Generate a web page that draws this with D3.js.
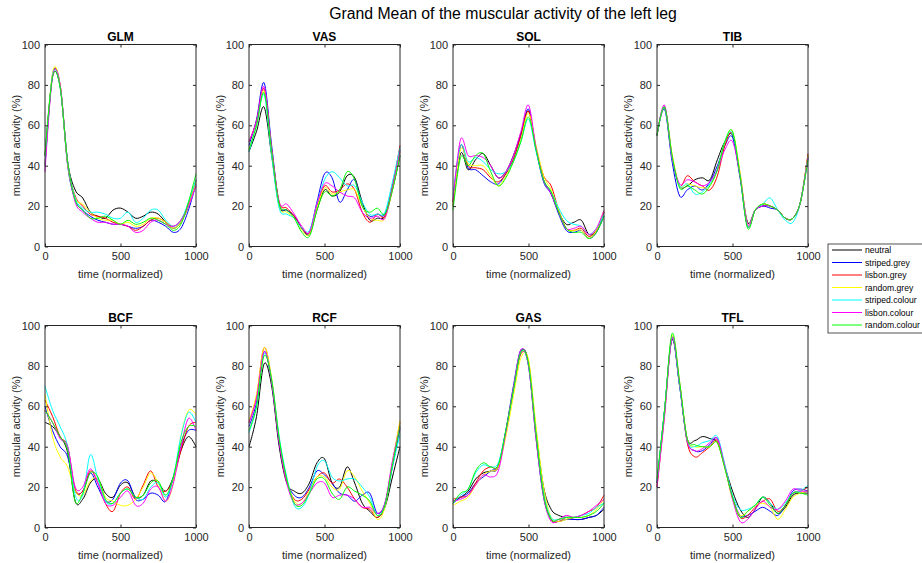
<!DOCTYPE html>
<html>
<head>
<meta charset="utf-8">
<script src="https://cdn.jsdelivr.net/npm/d3@7"></script>
<style>
  body { margin: 0; background: #fff; }
  text { font-family: "Liberation Sans", Arial, sans-serif; }
</style>
</head>
<body>
<div id="chart"></div>
<script>
// time grid shared by all muscles (normalized gait cycle)
var timePoints = [0, 50, 100, 150, 200, 250, 300, 350, 400, 450, 500, 550, 600, 650, 700, 750, 800, 850, 900, 950, 1000];

var seriesNames = ["neutral", "striped.grey", "lisbon.grey", "random.grey", "striped.colour", "lisbon.colour", "random.colour"];
var seriesColors = ["#000000", "#0000ff", "#ff0000", "#ffff00", "#00ffff", "#ff00ff", "#00ff00"];

var muscleNames = ["GLM", "VAS", "SOL", "TIB", "BCF", "RCF", "GAS", "TFL"];

var xTicks = [0, 500, 1000];
var yTicks = [0, 20, 40, 60, 80, 100];

// one row per series, same order as seriesNames
var glmValues = [
  [45, 84, 79, 42, 28, 24, 17, 15, 14, 18, 19, 17, 14, 15, 17, 16, 12, 9, 12, 20, 33],
  [40, 85, 80, 40, 23, 18, 15, 13, 12, 11, 11, 10, 9, 10, 13, 12, 10, 7, 9, 18, 31],
  [40, 85, 80, 41, 25, 20, 16, 15, 14, 12, 11, 10, 8, 10, 13, 14, 12, 10, 13, 21, 32],
  [40, 86, 80, 41, 24, 21, 17, 14, 13, 13, 11, 12, 10, 11, 14, 14, 12, 9, 12, 20, 32],
  [40, 85, 79, 42, 24, 19, 17, 17, 16, 14, 14, 17, 12, 14, 18, 18, 13, 10, 13, 22, 33],
  [37, 84, 80, 42, 22, 17, 14, 12, 12, 11, 11, 10, 7, 8, 12, 13, 11, 10, 13, 20, 30],
  [45, 84, 79, 42, 23, 18, 14, 14, 15, 13, 11, 13, 11, 12, 14, 13, 11, 8, 11, 22, 36]
];
var vasValues = [
  [47, 57, 69, 45, 20, 18, 15, 9, 6, 18, 28, 25, 27, 35, 34, 22, 13, 14, 15, 28, 45],
  [50, 63, 81, 50, 21, 18, 15, 9, 7, 22, 36, 34, 22, 28, 33, 20, 15, 16, 16, 30, 48],
  [52, 62, 78, 48, 22, 19, 15, 9, 7, 20, 30, 27, 28, 31, 28, 17, 12, 16, 15, 30, 50],
  [48, 60, 77, 47, 20, 17, 14, 8, 6, 19, 29, 26, 27, 28, 28, 20, 14, 13, 14, 28, 47],
  [47, 60, 75, 45, 19, 16, 14, 9, 8, 21, 33, 37, 34, 30, 30, 22, 16, 16, 17, 32, 49],
  [52, 62, 79, 48, 22, 21, 16, 10, 7, 21, 31, 30, 27, 25, 24, 17, 14, 15, 14, 29, 47],
  [48, 60, 76, 47, 21, 18, 14, 7, 5, 18, 27, 25, 28, 37, 33, 20, 17, 19, 16, 28, 45]
];
var solValues = [
  [20, 46, 38, 43, 46, 40, 34, 37, 45, 56, 67, 48, 33, 26, 17, 11, 12, 13, 6, 8, 17],
  [22, 50, 39, 38, 35, 32, 31, 36, 43, 55, 68, 48, 32, 26, 16, 8, 7, 8, 4, 7, 15],
  [22, 50, 40, 39, 38, 34, 32, 36, 43, 55, 67, 49, 35, 30, 18, 9, 8, 9, 5, 8, 17],
  [20, 48, 41, 40, 40, 35, 30, 35, 42, 53, 66, 50, 35, 28, 18, 9, 8, 8, 4, 8, 18],
  [25, 50, 42, 44, 42, 38, 36, 37, 42, 52, 63, 47, 33, 27, 19, 13, 11, 10, 6, 9, 16],
  [23, 53, 45, 45, 44, 40, 34, 37, 45, 57, 70, 49, 33, 26, 17, 9, 9, 10, 6, 9, 18],
  [18, 44, 40, 45, 46, 37, 30, 34, 42, 52, 64, 48, 33, 27, 17, 9, 7, 7, 4, 7, 15]
];
var tibValues = [
  [55, 69, 44, 30, 30, 33, 34, 33, 43, 52, 55, 35, 12, 18, 20, 20, 18, 14, 14, 22, 45],
  [55, 68, 42, 25, 28, 30, 28, 32, 40, 50, 54, 34, 10, 18, 20, 19, 18, 14, 14, 22, 44],
  [55, 69, 45, 30, 35, 32, 30, 28, 35, 50, 56, 36, 10, 18, 21, 20, 18, 14, 14, 22, 46],
  [55, 69, 46, 30, 31, 30, 29, 30, 38, 52, 57, 37, 11, 18, 21, 20, 18, 14, 14, 22, 45],
  [55, 69, 44, 30, 31, 26, 27, 31, 38, 52, 56, 35, 10, 18, 21, 24, 18, 13, 12, 22, 44],
  [55, 70, 44, 31, 33, 32, 30, 32, 38, 48, 52, 35, 11, 18, 20, 20, 18, 14, 14, 22, 44],
  [55, 69, 45, 29, 30, 28, 26, 30, 38, 52, 57, 35, 9, 18, 21, 20, 18, 14, 14, 22, 43]
];
var bcfValues = [
  [52, 50, 45, 37, 13, 14, 22, 24, 17, 15, 21, 22, 15, 16, 23, 22, 18, 25, 38, 45, 40],
  [60, 48, 40, 35, 18, 18, 27, 20, 13, 14, 22, 23, 14, 14, 17, 16, 13, 25, 40, 48, 48],
  [63, 55, 45, 40, 19, 18, 28, 22, 12, 8, 17, 20, 14, 21, 28, 20, 18, 24, 38, 50, 52],
  [66, 45, 35, 30, 18, 16, 23, 24, 15, 13, 11, 11, 14, 20, 27, 22, 13, 22, 45, 58, 56],
  [70, 58, 50, 40, 16, 16, 36, 24, 13, 12, 17, 19, 15, 14, 20, 22, 15, 25, 45, 57, 52],
  [58, 52, 44, 40, 20, 20, 29, 22, 12, 11, 15, 18, 11, 12, 19, 20, 13, 22, 40, 54, 48],
  [58, 52, 45, 38, 13, 17, 27, 25, 14, 12, 17, 19, 15, 16, 22, 23, 16, 25, 42, 50, 50]
];
var rcfValues = [
  [40, 55, 81, 70, 40, 22, 18, 17, 22, 32, 34, 22, 20, 30, 22, 12, 8, 5, 10, 25, 40],
  [50, 62, 87, 72, 42, 23, 16, 15, 20, 28, 26, 22, 17, 16, 13, 16, 17, 7, 12, 30, 49],
  [52, 65, 89, 73, 43, 23, 14, 14, 19, 25, 27, 22, 24, 20, 14, 10, 9, 5, 11, 32, 52],
  [53, 66, 89, 74, 44, 24, 13, 12, 18, 25, 25, 20, 19, 28, 25, 18, 12, 4, 10, 32, 53],
  [47, 60, 86, 73, 45, 25, 11, 10, 17, 30, 33, 25, 23, 24, 24, 20, 15, 6, 11, 30, 46],
  [52, 64, 87, 72, 42, 22, 12, 12, 17, 22, 22, 15, 16, 16, 14, 10, 10, 7, 12, 33, 50],
  [48, 60, 85, 73, 44, 24, 12, 11, 17, 24, 24, 17, 14, 20, 18, 16, 13, 6, 11, 31, 50]
];
var gasValues = [
  [13, 15, 18, 24, 27, 28, 30, 48, 68, 87, 82, 48, 20, 9, 6, 5, 4, 4, 5, 6, 9],
  [12, 15, 17, 22, 25, 28, 31, 48, 70, 88, 80, 44, 15, 4, 3, 4, 4, 4, 5, 6, 10],
  [14, 15, 16, 22, 28, 30, 30, 47, 68, 86, 81, 46, 17, 4, 3, 5, 5, 6, 8, 10, 16],
  [11, 13, 15, 21, 26, 28, 30, 45, 65, 84, 83, 50, 20, 5, 3, 4, 5, 5, 6, 9, 14],
  [12, 16, 19, 27, 31, 30, 32, 48, 68, 87, 80, 46, 17, 5, 4, 5, 5, 6, 7, 10, 12],
  [13, 14, 16, 21, 26, 25, 28, 47, 69, 88, 80, 44, 15, 3, 4, 6, 5, 6, 8, 11, 14],
  [12, 17, 19, 28, 32, 30, 31, 48, 68, 87, 81, 46, 16, 4, 4, 5, 5, 5, 6, 8, 12]
];
var tflValues = [
  [22, 58, 93, 70, 44, 43, 45, 44, 42, 30, 18, 9, 5, 9, 15, 12, 7, 10, 16, 17, 17],
  [22, 58, 94, 70, 43, 38, 38, 41, 44, 30, 15, 6, 6, 8, 10, 8, 6, 11, 18, 19, 18],
  [20, 56, 94, 71, 42, 35, 37, 40, 43, 30, 15, 5, 6, 10, 13, 14, 8, 11, 17, 18, 20],
  [21, 57, 95, 72, 44, 40, 40, 40, 42, 29, 14, 6, 8, 11, 12, 10, 4, 9, 15, 17, 18],
  [23, 58, 94, 70, 43, 40, 42, 43, 45, 31, 16, 9, 9, 11, 15, 12, 9, 12, 17, 18, 21],
  [20, 55, 94, 71, 43, 38, 39, 42, 44, 30, 14, 3, 4, 9, 13, 10, 9, 13, 19, 18, 18],
  [24, 58, 96, 72, 44, 41, 40, 40, 42, 29, 15, 5, 8, 11, 15, 11, 7, 11, 17, 17, 16]
];

var allValues = [glmValues, vasValues, solValues, tibValues, bcfValues, rcfValues, gasValues, tflValues];

var width = 922, height = 563;
var axLefts = [45, 249, 453, 657];
var axTops = [44.5, 325.5];
var axW = 151, axH = 202;
var axisColor = "#262626";

var svg = d3.select("#chart").append("svg")
            .attr("width", width)
            .attr("height", height)
            .style("background", "#fff");

svg.append("text")
   .attr("x", 503)
   .attr("y", 19)
   .attr("text-anchor", "middle")
   .style("font-size", "15.8px")
   .attr("fill", "#000")
   .text("Grand Mean of the muscular activity of the left leg");

var x = d3.scaleLinear().domain([0, 1000]).range([0, axW]);
var y = d3.scaleLinear().domain([0, 100]).range([axH, 0]);

var line = d3.line()
             .x(function(d) { return x(d[0]); })
             .y(function(d) { return y(d[1]); })
             .curve(d3.curveCardinal.tension(0));

muscleNames.forEach(function(name, i) {
  var col = i % 4, row = Math.floor(i / 4);
  var g = svg.append("g")
             .attr("transform", "translate(" + axLefts[col] + "," + axTops[row] + ")");

  // data lines
  allValues[i].forEach(function(vals, s) {
    var pts = timePoints.map(function(t, k) { return [t, vals[k]]; });
    g.append("path")
     .datum(pts)
     .attr("d", line)
     .attr("fill", "none")
     .attr("stroke", seriesColors[s])
     .attr("stroke-width", 1);
  });

  // axes, ticks point inwards like matlab
  g.append("g").attr("transform", "translate(0," + axH + ")")
   .call(d3.axisBottom(x).tickValues(xTicks).tickFormat(d3.format("d"))
           .tickSizeInner(-3).tickSizeOuter(0).tickPadding(6));
  g.append("g")
   .call(d3.axisLeft(y).tickValues(yTicks).tickFormat(d3.format("d"))
           .tickSizeInner(-3).tickSizeOuter(0).tickPadding(5));
  g.append("g").call(d3.axisTop(x).tickValues(xTicks).tickSizeInner(-3).tickSizeOuter(0).tickFormat(""));
  g.append("g").attr("transform", "translate(" + axW + ",0)")
   .call(d3.axisRight(y).tickValues(yTicks).tickSizeInner(-3).tickSizeOuter(0).tickFormat(""));

  g.selectAll(".domain").remove();
  g.selectAll(".tick line").attr("stroke", axisColor);
  g.selectAll(".tick text")
   .attr("fill", axisColor)
   .style("font-size", "11px")
   .style("font-family", "'Liberation Sans', Arial, sans-serif");

  g.append("rect")
   .attr("x", 0).attr("y", 0)
   .attr("width", axW).attr("height", axH)
   .attr("fill", "none")
   .attr("stroke", axisColor)
   .attr("stroke-width", 1);

  g.append("text")
   .attr("x", axW / 2)
   .attr("y", -4)
   .attr("text-anchor", "middle")
   .style("font-size", "12px")
   .style("font-weight", "bold")
   .attr("fill", "#000")
   .text(name);

  g.append("text")
   .attr("x", axW / 2)
   .attr("y", axH + 31)
   .attr("text-anchor", "middle")
   .style("font-size", "11px")
   .attr("fill", axisColor)
   .text("time (normalized)");

  g.append("text")
   .attr("transform", "translate(-25," + (axH / 2) + ") rotate(-90)")
   .attr("text-anchor", "middle")
   .style("font-size", "11px")
   .attr("fill", axisColor)
   .text("muscular activity (%)");
});

// legend, box runs off the right edge like the source figure
var legend = svg.append("g").attr("transform", "translate(828,244)");
legend.append("rect")
      .attr("x", 0).attr("y", 0)
      .attr("width", 110).attr("height", 89)
      .attr("fill", "#fff")
      .attr("stroke", axisColor)
      .attr("stroke-width", 0.8);

seriesNames.forEach(function(n, s) {
  var ly = 6 + s * 12.5;
  legend.append("line")
        .attr("x1", 4).attr("x2", 34)
        .attr("y1", ly).attr("y2", ly)
        .attr("stroke", seriesColors[s])
        .attr("stroke-width", 1);
  legend.append("text")
        .attr("x", 37)
        .attr("y", ly + 3)
        .style("font-size", "8.6px")
        .attr("fill", "#000")
        .text(n);
});
</script>
</body>
</html>
